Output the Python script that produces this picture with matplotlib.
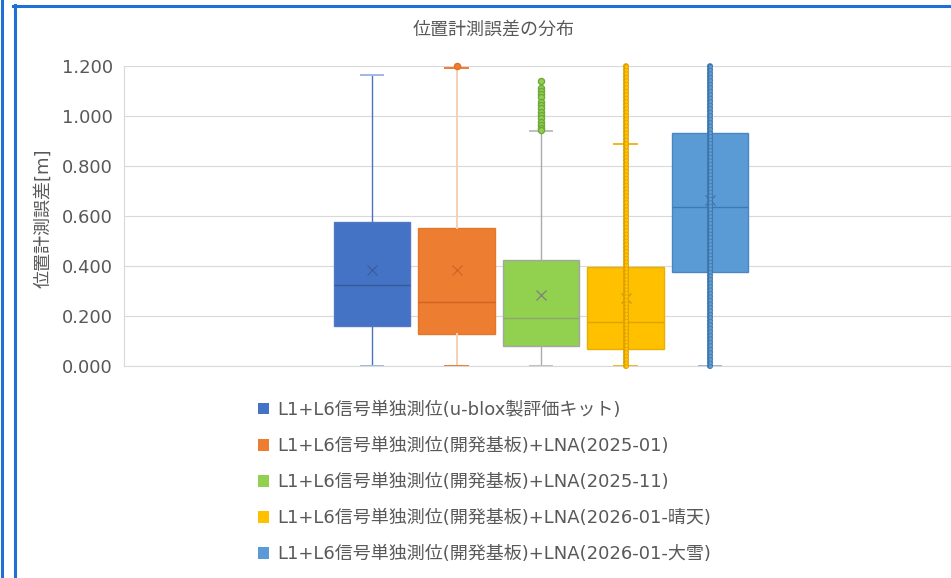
import matplotlib
matplotlib.use("Agg")
import matplotlib.pyplot as plt
from matplotlib.lines import Line2D
from matplotlib.patches import Patch
from matplotlib.ticker import FixedLocator, FormatStrFormatter

plt.rcParams['font.family'] = ['DejaVu Sans', 'Noto Sans CJK JP']
plt.rcParams['lines.scale_dashes'] = False

# 系列ごとの箱ひげ統計値 [m]
labels = [
    "L1+L6信号単独測位(u-blox製評価キット)",
    "L1+L6信号単独測位(開発基板)+LNA(2025-01)",
    "L1+L6信号単独測位(開発基板)+LNA(2025-11)",
    "L1+L6信号単独測位(開発基板)+LNA(2026-01-晴天)",
    "L1+L6信号単独測位(開発基板)+LNA(2026-01-大雪)",
]
whis_lo = [0.0, 0.0, 0.0, 0.0, 0.0]
q1 = [0.160, 0.130, 0.081, 0.067, 0.376]
median = [0.323, 0.255, 0.193, 0.178, 0.635]
q3 = [0.578, 0.551, 0.424, 0.395, 0.931]
mean = [0.386, 0.384, 0.284, 0.272, 0.665]
whis_hi = [1.165, 1.191, 0.941, 0.887, 1.60]

# 外れ値（個別に表示するもの）
fliers = [
    [],
    [1.200],
    [1.140, 1.112, 1.099, 1.088, 1.076, 1.057, 1.044, 1.031, 1.017, 1.004,
     0.991, 0.977, 0.964, 0.951, 0.943],
    [],
    [],
]
# 全データ点を表示している系列の点の範囲
points_lo = [None, None, None, 0.0, 0.0]
points_hi = [None, None, None, 1.208, 1.208]

fill = ['#4472C4', '#ED7D31', '#92D050', '#FFC000', '#5B9BD5']
edge = ['#5479C2', '#E2782E', '#A5A5A5', '#E8AE00', '#4A87C2']
med_c = ['#35599A', '#CF6320', '#8FA86C', '#DDA400', '#3E79B3']
mean_c = ['#3A5E9C', '#CF6525', '#7F7F7F', '#C99A10', '#3F74AA']
whisk_c = ['#4A74C0', '#F5D0B5', '#ABABAB', '#FFC000', '#5B9BD5']
cap_c = ['#A3B8E0', '#ED7D31', '#BFBFBF', '#F2B620', '#9CB4D6']
pt_edge = [None, '#E07022', '#6FA83A', '#DDA000', '#3E74A8']
pt_face = [None, '#ED7D31', '#92D050', '#FFC000', '#5B9BD5']

text_c = '#595959'
grid_c = '#D9D9D9'

fig = plt.figure(figsize=(9.51, 5.78), dpi=100)
ax = fig.add_axes([124 / 951, 1 - 366 / 578, 1 - 124 / 951, 300 / 578])

positions = list(range(len(labels)))
for i in positions:
    stats = [dict(whislo=whis_lo[i], q1=q1[i], med=median[i], q3=q3[i],
                  whishi=whis_hi[i], mean=mean[i], fliers=[])]
    ax.bxp(stats, positions=[i], widths=0.91, capwidths=0.27,
           patch_artist=True, showmeans=True, showfliers=False,
           boxprops=dict(facecolor=fill[i], edgecolor=edge[i], linewidth=1.0),
           medianprops=dict(color=med_c[i], linewidth=1.0),
           meanprops=dict(marker='x', markeredgecolor=mean_c[i],
                          markersize=7, markeredgewidth=0.9),
           whiskerprops=dict(color=whisk_c[i], linewidth=1.0 if i != 1 else 1.4),
           capprops=dict(color=cap_c[i], linewidth=1.4),
           zorder=3)
    if fliers[i]:
        ax.plot([i] * len(fliers[i]), fliers[i], linestyle='none', marker='o',
                markersize=4.4, markerfacecolor=pt_face[i],
                markeredgecolor=pt_edge[i], markeredgewidth=1.0,
                zorder=5, clip_on=False)
    if points_lo[i] is not None:
        # 重なり合う多数の点を点線の連なりとして描く
        ax.plot([i, i], [points_lo[i], points_hi[i]], color=pt_edge[i],
                linewidth=4.4, linestyle=(0, (0.01, 2.5)),
                dash_capstyle='round', zorder=5, clip_on=False)
        ax.plot([i, i], [points_lo[i], points_hi[i]], color=pt_face[i],
                linewidth=2.4, linestyle=(0, (0.01, 2.5)),
                dash_capstyle='round', zorder=6, clip_on=False)

ax.set_ylim(0, 1.2)
ax.set_xlim(2 - 417 / 84.5, 2 - 417 / 84.5 + 827 / 84.5)
ax.yaxis.set_major_locator(FixedLocator([0, 0.2, 0.4, 0.6, 0.8, 1.0, 1.2]))
ax.yaxis.set_major_formatter(FormatStrFormatter('%.3f'))
ax.set_xticks([])
ax.tick_params(axis='y', length=0, pad=8, labelsize=13, labelcolor=text_c)
ax.grid(axis='y', color=grid_c, linewidth=0.8, zorder=0)
ax.set_axisbelow(True)
for side in ('top', 'right'):
    ax.spines[side].set_visible(False)
for side in ('left', 'bottom'):
    ax.spines[side].set_color(grid_c)
    ax.spines[side].set_linewidth(0.8)

fig.text(494 / 951, 1 - 30 / 578, "位置計測誤差の分布", ha='center', va='center',
         fontsize=13, color=text_c)
fig.text(43 / 951, 1 - 218 / 578, "位置計測誤差[m]", ha='center', va='center',
         rotation=90, fontsize=13, color=text_c)

handles = [Patch(facecolor=c, edgecolor='none') for c in fill]
fig.legend(handles, labels, loc='upper left',
           bbox_to_anchor=(258 / 951, 1 - 401 / 578), frameon=False,
           fontsize=13, labelcolor=text_c, handlelength=0.62, handleheight=0.62,
           handletextpad=0.45, labelspacing=1.0, borderpad=0, borderaxespad=0)

# 外枠の青線
frame_c = '#1F6FD6'
fig.add_artist(Line2D([1.5 / 951, 1.5 / 951], [0, 1], color=frame_c,
                      linewidth=2.2, transform=fig.transFigure))
fig.add_artist(Line2D([14.5 / 951, 14.5 / 951], [0, 1 - 5 / 578], color=frame_c,
                      linewidth=2.2, transform=fig.transFigure))
fig.add_artist(Line2D([13 / 951, 1], [1 - 6.3 / 578, 1 - 6.3 / 578], color=frame_c,
                      linewidth=2.2, transform=fig.transFigure))

fig.savefig("out.png", dpi=100)
